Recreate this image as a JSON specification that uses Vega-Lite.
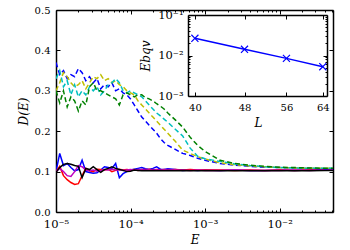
{
  "$schema": "https://vega.github.io/schema/vega-lite/v6.json",
  "width": 277,
  "height": 202,
  "autosize": {"type": "none"},
  "padding": {"left": 56, "top": 10, "right": 17, "bottom": 38},
  "background": "white",
  "config": {
    "view": {"stroke": null},
    "axis": {
      "grid": false,
      "domainColor": "black",
      "domainWidth": 1.5,
      "tickColor": "black",
      "tickWidth": 1,
      "labelColor": "black",
      "titleColor": "black",
      "labelFont": "DejaVu Serif",
      "labelFontSize": 10,
      "titleFont": "DejaVu Serif",
      "titleFontSize": 12,
      "titleFontWeight": "normal",
      "titleFontStyle": "italic",
      "labelOverlap": false,
      "labelFlush": false,
      "labelBound": false
    }
  },
  "datasets": {
    "main": [
      {"E": 1e-5, "bs": 0.1, "rs": 0.1, "ms": 0.1, "ks": 0.098, "bd": 0.37, "yd": 0.30, "cd": 0.33, "gd": 0.30},
      {"E": 1.122e-5, "bs": 0.145, "rs": 0.113, "ms": 0.108, "ks": 0.11, "bd": 0.34, "yd": 0.32, "cd": 0.35, "gd": 0.27},
      {"E": 1.259e-5, "bs": 0.115, "rs": 0.09, "ms": 0.1, "ks": 0.118, "bd": 0.35, "yd": 0.345, "cd": 0.31, "gd": 0.30},
      {"E": 1.413e-5, "bs": 0.12, "rs": 0.08, "ms": 0.09, "ks": 0.12, "bd": 0.33, "yd": 0.335, "cd": 0.325, "gd": 0.26},
      {"E": 1.585e-5, "bs": 0.11, "rs": 0.073, "ms": 0.088, "ks": 0.118, "bd": 0.34, "yd": 0.32, "cd": 0.29, "gd": 0.285},
      {"E": 1.778e-5, "bs": 0.102, "rs": 0.068, "ms": 0.1, "ks": 0.115, "bd": 0.335, "yd": 0.31, "cd": 0.315, "gd": 0.275},
      {"E": 1.995e-5, "bs": 0.105, "rs": 0.07, "ms": 0.115, "ks": 0.113, "bd": 0.355, "yd": 0.315, "cd": 0.285, "gd": 0.25},
      {"E": 2.239e-5, "bs": 0.128, "rs": 0.09, "ms": 0.112, "ks": 0.085, "bd": 0.345, "yd": 0.325, "cd": 0.30, "gd": 0.275},
      {"E": 2.512e-5, "bs": 0.1, "rs": 0.108, "ms": 0.104, "ks": 0.108, "bd": 0.325, "yd": 0.305, "cd": 0.29, "gd": 0.265},
      {"E": 2.818e-5, "bs": 0.098, "rs": 0.102, "ms": 0.102, "ks": 0.105, "bd": 0.335, "yd": 0.32, "cd": 0.31, "gd": 0.31},
      {"E": 3.162e-5, "bs": 0.096, "rs": 0.1, "ms": 0.104, "ks": 0.112, "bd": 0.32, "yd": 0.335, "cd": 0.30, "gd": 0.32},
      {"E": 3.548e-5, "bs": 0.097, "rs": 0.106, "ms": 0.101, "ks": 0.105, "bd": 0.33, "yd": 0.33, "cd": 0.31, "gd": 0.30},
      {"E": 3.981e-5, "bs": 0.104, "rs": 0.105, "ms": 0.103, "ks": 0.098, "bd": 0.305, "yd": 0.34, "cd": 0.29, "gd": 0.30},
      {"E": 4.467e-5, "bs": 0.112, "rs": 0.104, "ms": 0.105, "ks": 0.105, "bd": 0.315, "yd": 0.325, "cd": 0.30, "gd": 0.295},
      {"E": 5.012e-5, "bs": 0.11, "rs": 0.106, "ms": 0.104, "ks": 0.108, "bd": 0.31, "yd": 0.33, "cd": 0.315, "gd": 0.29},
      {"E": 5.623e-5, "bs": 0.108, "rs": 0.1, "ms": 0.106, "ks": 0.112, "bd": 0.32, "yd": 0.32, "cd": 0.32, "gd": 0.285},
      {"E": 6.31e-5, "bs": 0.12, "rs": 0.103, "ms": 0.104, "ks": 0.108, "bd": 0.30, "yd": 0.325, "cd": 0.33, "gd": 0.28},
      {"E": 7.079e-5, "bs": 0.085, "rs": 0.106, "ms": 0.105, "ks": 0.105, "bd": 0.305, "yd": 0.315, "cd": 0.32, "gd": 0.265},
      {"E": 7.943e-5, "bs": 0.095, "rs": 0.104, "ms": 0.103, "ks": 0.103, "bd": 0.295, "yd": 0.31, "cd": 0.30, "gd": 0.29},
      {"E": 8.913e-5, "bs": 0.1, "rs": 0.105, "ms": 0.104, "ks": 0.1, "bd": 0.29, "yd": 0.30, "cd": 0.295, "gd": 0.295},
      {"E": 1e-4, "bs": 0.104, "rs": 0.104, "ms": 0.105, "ks": 0.101, "bd": 0.28, "yd": 0.295, "cd": 0.30, "gd": 0.29},
      {"E": 1.122e-4, "bs": 0.106, "rs": 0.105, "ms": 0.104, "ks": 0.104, "bd": 0.265, "yd": 0.29, "cd": 0.295, "gd": 0.285},
      {"E": 1.259e-4, "bs": 0.108, "rs": 0.103, "ms": 0.105, "ks": 0.103, "bd": 0.25, "yd": 0.275, "cd": 0.29, "gd": 0.29},
      {"E": 1.413e-4, "bs": 0.11, "rs": 0.105, "ms": 0.104, "ks": 0.102, "bd": 0.235, "yd": 0.265, "cd": 0.285, "gd": 0.29},
      {"E": 1.585e-4, "bs": 0.107, "rs": 0.104, "ms": 0.106, "ks": 0.103, "bd": 0.225, "yd": 0.255, "cd": 0.275, "gd": 0.283},
      {"E": 1.778e-4, "bs": 0.105, "rs": 0.106, "ms": 0.104, "ks": 0.102, "bd": 0.215, "yd": 0.245, "cd": 0.265, "gd": 0.28},
      {"E": 1.995e-4, "bs": 0.108, "rs": 0.104, "ms": 0.105, "ks": 0.103, "bd": 0.205, "yd": 0.235, "cd": 0.255, "gd": 0.275},
      {"E": 2.239e-4, "bs": 0.112, "rs": 0.105, "ms": 0.104, "ks": 0.102, "bd": 0.195, "yd": 0.225, "cd": 0.245, "gd": 0.268},
      {"E": 2.512e-4, "bs": 0.106, "rs": 0.104, "ms": 0.105, "ks": 0.103, "bd": 0.182, "yd": 0.215, "cd": 0.238, "gd": 0.262},
      {"E": 2.818e-4, "bs": 0.105, "rs": 0.105, "ms": 0.104, "ks": 0.102, "bd": 0.172, "yd": 0.205, "cd": 0.23, "gd": 0.255},
      {"E": 3.162e-4, "bs": 0.107, "rs": 0.104, "ms": 0.105, "ks": 0.103, "bd": 0.165, "yd": 0.195, "cd": 0.222, "gd": 0.245},
      {"E": 3.981e-4, "bs": 0.105, "rs": 0.105, "ms": 0.104, "ks": 0.102, "bd": 0.155, "yd": 0.175, "cd": 0.205, "gd": 0.228},
      {"E": 5.012e-4, "bs": 0.103, "rs": 0.104, "ms": 0.104, "ks": 0.103, "bd": 0.145, "yd": 0.153, "cd": 0.188, "gd": 0.21},
      {"E": 6.31e-4, "bs": 0.104, "rs": 0.105, "ms": 0.103, "ks": 0.102, "bd": 0.14, "yd": 0.145, "cd": 0.158, "gd": 0.185},
      {"E": 7.943e-4, "bs": 0.103, "rs": 0.104, "ms": 0.104, "ks": 0.102, "bd": 0.133, "yd": 0.137, "cd": 0.138, "gd": 0.165},
      {"E": 1e-3, "bs": 0.104, "rs": 0.104, "ms": 0.103, "ks": 0.102, "bd": 0.128, "yd": 0.131, "cd": 0.132, "gd": 0.15},
      {"E": 1.585e-3, "bs": 0.103, "rs": 0.104, "ms": 0.103, "ks": 0.102, "bd": 0.12, "yd": 0.122, "cd": 0.125, "gd": 0.128},
      {"E": 2.512e-3, "bs": 0.104, "rs": 0.103, "ms": 0.104, "ks": 0.102, "bd": 0.116, "yd": 0.117, "cd": 0.119, "gd": 0.12},
      {"E": 3.981e-3, "bs": 0.103, "rs": 0.104, "ms": 0.103, "ks": 0.102, "bd": 0.113, "yd": 0.114, "cd": 0.115, "gd": 0.116},
      {"E": 6.31e-3, "bs": 0.103, "rs": 0.103, "ms": 0.103, "ks": 0.102, "bd": 0.111, "yd": 0.112, "cd": 0.112, "gd": 0.113},
      {"E": 1e-2, "bs": 0.104, "rs": 0.104, "ms": 0.103, "ks": 0.102, "bd": 0.11, "yd": 0.11, "cd": 0.11, "gd": 0.111},
      {"E": 1.585e-2, "bs": 0.103, "rs": 0.103, "ms": 0.104, "ks": 0.102, "bd": 0.109, "yd": 0.109, "cd": 0.109, "gd": 0.11},
      {"E": 2.512e-2, "bs": 0.104, "rs": 0.104, "ms": 0.103, "ks": 0.102, "bd": 0.108, "yd": 0.108, "cd": 0.108, "gd": 0.109},
      {"E": 3.981e-2, "bs": 0.104, "rs": 0.104, "ms": 0.104, "ks": 0.103, "bd": 0.107, "yd": 0.108, "cd": 0.108, "gd": 0.108},
      {"E": 5.2e-2, "bs": 0.104, "rs": 0.104, "ms": 0.104, "ks": 0.103, "bd": 0.107, "yd": 0.108, "cd": 0.108, "gd": 0.108}
    ],
    "inset": [
      {"L": 40, "Ebqv": 0.0266},
      {"L": 48, "Ebqv": 0.0142},
      {"L": 56, "Ebqv": 0.0085},
      {"L": 64, "Ebqv": 0.0053}
    ]
  },
  "layer": [
    {
      "data": {"name": "main"},
      "transform": [{"fold": ["bs", "rs", "ms", "ks"], "as": ["series", "D"]}],
      "mark": {"type": "line", "strokeWidth": 1.5, "clip": true},
      "encoding": {
        "x": {
          "field": "E", "type": "quantitative",
          "scale": {"type": "log", "domain": [1e-5, 0.052], "nice": false},
          "axis": {
            "orient": "bottom",
            "tickCount": 10,
            "tickSize": {"condition": {"test": "abs(log(datum.value)/LN10 - round(log(datum.value)/LN10)) < 0.001", "value": -4}, "value": -2},
            "labelPadding": 10,
            "labelFontSize": 11.5,
            "labelExpr": "abs(log(datum.value)/LN10 - round(log(datum.value)/LN10)) < 0.001 ? '10' + (round(log(datum.value)/LN10) < 0 ? '⁻' : '') + ['⁰','¹','²','³','⁴','⁵','⁶','⁷','⁸','⁹'][abs(round(log(datum.value)/LN10))] : ''",
            "title": "E",
            "titleX": 138.5,
            "titleY": 27,
            "titleBaseline": "middle"
          }
        },
        "y": {
          "field": "D", "type": "quantitative",
          "scale": {"domain": [0, 0.5], "nice": false, "zero": false},
          "axis": {
            "orient": "left",
            "values": [0, 0.1, 0.2, 0.3, 0.4, 0.5],
            "format": ".1f",
            "tickSize": -4,
            "labelPadding": 10,
            "title": "D(E)",
            "titleX": -33,
            "titleY": 101,
            "titleBaseline": "middle"
          }
        },
        "color": {
          "field": "series", "type": "nominal", "legend": null,
          "scale": {
            "domain": ["bs", "rs", "ms", "ks", "bd", "yd", "cd", "gd"],
            "range": ["#0000ff", "#ff0000", "#bf00bf", "#000000", "#0000ff", "#bfbf00", "#00bfbf", "#008000"]
          }
        }
      }
    },
    {
      "data": {"name": "main"},
      "transform": [{"fold": ["bd", "yd", "cd", "gd"], "as": ["series", "D"]}],
      "mark": {"type": "line", "strokeWidth": 1.5, "strokeDash": [5, 3], "clip": true},
      "encoding": {
        "x": {
          "field": "E", "type": "quantitative",
          "scale": {"type": "log", "domain": [1e-5, 0.052], "nice": false},
          "axis": {
            "orient": "top",
            "tickCount": 10,
            "tickSize": {"condition": {"test": "abs(log(datum.value)/LN10 - round(log(datum.value)/LN10)) < 0.001", "value": -4}, "value": -2},
            "labels": false,
            "title": null
          }
        },
        "y": {
          "field": "D", "type": "quantitative",
          "scale": {"domain": [0, 0.5], "nice": false, "zero": false},
          "axis": {
            "orient": "right",
            "values": [0, 0.1, 0.2, 0.3, 0.4, 0.5],
            "tickSize": -4,
            "labels": false,
            "title": null
          }
        },
        "color": {"field": "series", "type": "nominal", "legend": null}
      }
    },
    {
      "data": {"name": "inset"},
      "mark": {"type": "line", "color": "#0000ff", "strokeWidth": 1.5},
      "encoding": {
        "x": {
          "field": "L", "type": "quantitative",
          "scale": {"type": "log", "domain": [39, 65], "range": [132, 271], "nice": false},
          "axis": {
            "orient": "bottom",
            "offset": -116,
            "values": [40, 48, 56, 64],
            "format": "d",
            "tickSize": -4,
            "labelPadding": 10,
            "title": "L",
            "titleX": 202,
            "titleY": 26,
            "titleBaseline": "middle"
          }
        },
        "y": {
          "field": "Ebqv", "type": "quantitative",
          "scale": {"type": "log", "domain": [0.001, 0.1], "range": [86, 5], "nice": false},
          "axis": {
            "orient": "left",
            "offset": -132,
            "tickCount": 10,
            "tickSize": {"condition": {"test": "abs(log(datum.value)/LN10 - round(log(datum.value)/LN10)) < 0.001", "value": -4}, "value": -2},
            "labelPadding": 9,
            "labelFontSize": 11.5,
            "labelExpr": "abs(log(datum.value)/LN10 - round(log(datum.value)/LN10)) < 0.001 ? '10' + (round(log(datum.value)/LN10) < 0 ? '⁻' : '') + ['⁰','¹','²','³','⁴','⁵','⁶','⁷','⁸','⁹'][abs(round(log(datum.value)/LN10))] : ''",
            "title": "Ebqv",
            "titleX": -43,
            "titleY": 45.5,
            "titleBaseline": "middle"
          }
        }
      }
    },
    {
      "data": {"name": "inset"},
      "mark": {"type": "point", "shape": "M-1,-1L1,1M-1,1L1,-1", "filled": false, "color": "#0000ff", "size": 50, "strokeWidth": 1.2, "opacity": 1},
      "encoding": {
        "x": {
          "field": "L", "type": "quantitative",
          "scale": {"type": "log", "domain": [39, 65], "range": [132, 271], "nice": false},
          "axis": {
            "orient": "top",
            "offset": -5,
            "values": [40, 48, 56, 64],
            "tickSize": -4,
            "labels": false,
            "title": null
          }
        },
        "y": {
          "field": "Ebqv", "type": "quantitative",
          "scale": {"type": "log", "domain": [0.001, 0.1], "range": [86, 5], "nice": false},
          "axis": {
            "orient": "right",
            "offset": -6,
            "tickCount": 10,
            "tickSize": {"condition": {"test": "abs(log(datum.value)/LN10 - round(log(datum.value)/LN10)) < 0.001", "value": -4}, "value": -2},
            "labels": false,
            "title": null
          }
        }
      }
    }
  ],
  "resolve": {
    "scale": {"x": "independent", "y": "independent"},
    "axis": {"x": "independent", "y": "independent"}
  }
}
